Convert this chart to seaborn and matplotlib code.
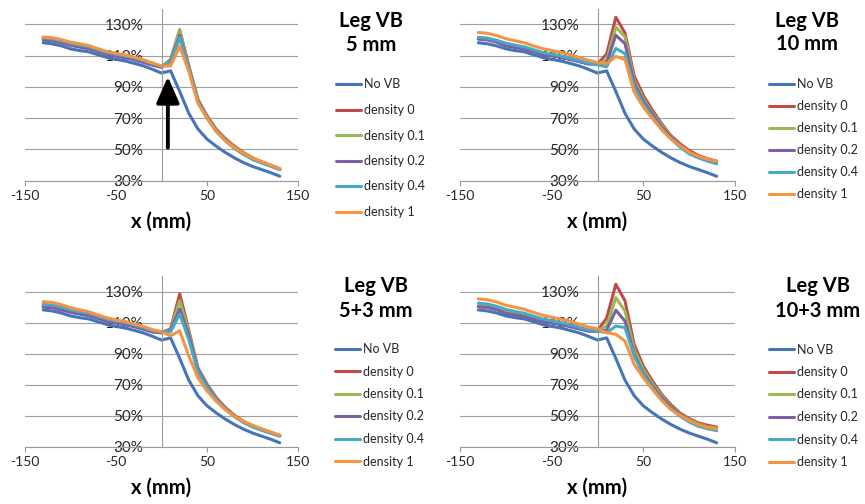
import matplotlib
matplotlib.use("Agg")
import matplotlib.pyplot as plt
from matplotlib.lines import Line2D
import pandas as pd
import seaborn as sns

# positions along the leg (mm)
x_mm = [-130, -120, -110, -100, -90, -80, -70, -60, -50, -40, -30, -20, -10,
        0, 10, 20, 30, 40, 50, 60, 70, 80, 90, 100, 110, 120, 130]

series_labels = ["No VB", "density 0", "density 0.1", "density 0.2", "density 0.4", "density 1"]

# reference curve, same in every panel (%)
no_vb = [118.2, 117.5, 116.2, 114.3, 113.2, 112.4, 110.6, 108.8, 107.6, 106.5, 105.0, 103.4, 101.2,
         98.8, 100.2, 87.0, 73.0, 63.0, 56.5, 52.0, 48.0, 44.5, 41.5, 39.0, 37.0, 35.0, 32.7]

# Leg VB 5 mm
p5_d0 = [120.6, 120.2, 118.9, 117.2, 116.0, 115.0, 113.2, 111.3, 110.2, 109.2, 107.7, 106.1, 104.3,
         102.8, 107.5, 126.5, 103.5, 82.0, 71.5, 63.0, 57.0, 52.0, 48.0, 44.5, 42.0, 39.8, 37.5]
p5_d01 = [121.0, 120.6, 119.3, 117.7, 116.5, 115.5, 113.6, 111.7, 110.6, 109.6, 108.1, 106.5, 104.6,
          103.0, 107.0, 126.0, 103.0, 81.5, 71.0, 62.5, 56.5, 51.5, 47.5, 44.2, 41.8, 39.6, 37.3]
p5_d02 = [119.8, 119.4, 118.1, 116.5, 115.4, 114.4, 112.6, 110.7, 109.6, 108.6, 107.2, 105.6, 103.8,
          102.5, 106.0, 123.0, 102.0, 81.0, 70.5, 62.0, 56.0, 51.0, 47.0, 43.8, 41.5, 39.4, 37.1]
p5_d04 = [121.2, 120.8, 119.5, 117.8, 116.7, 115.7, 113.8, 112.0, 110.9, 109.8, 108.4, 106.8, 104.9,
          103.1, 105.5, 121.5, 101.5, 80.5, 70.0, 61.5, 55.5, 50.5, 46.8, 43.5, 41.2, 39.2, 36.9]
p5_d1 = [121.8, 121.5, 120.2, 118.6, 117.5, 116.4, 114.4, 112.6, 111.4, 110.4, 109.0, 107.3, 105.3,
         103.3, 103.3, 116.0, 100.0, 79.5, 70.0, 61.5, 55.5, 51.0, 47.5, 44.5, 42.0, 39.8, 37.5]

# Leg VB 10 mm
p10_d0 = [121.0, 120.5, 119.0, 116.5, 115.5, 114.5, 112.8, 111.0, 110.2, 109.2, 107.8, 106.4, 104.8,
          104.6, 111.0, 134.5, 124.5, 97.0, 84.5, 75.0, 66.3, 58.8, 53.5, 49.2, 46.0, 43.9, 42.4]
p10_d01 = [121.3, 120.8, 119.4, 117.2, 116.0, 115.0, 113.2, 111.4, 110.5, 109.5, 108.0, 106.6, 105.0,
           104.8, 107.0, 128.3, 121.9, 94.0, 82.4, 73.2, 65.3, 58.2, 52.4, 48.2, 45.4, 43.5, 41.8]
p10_d02 = [120.5, 120.0, 118.6, 116.2, 115.2, 114.2, 112.5, 110.7, 109.8, 108.9, 107.5, 106.1, 104.6,
           104.5, 105.2, 123.0, 117.6, 92.0, 80.9, 72.3, 64.2, 57.8, 52.4, 48.2, 45.4, 43.2, 41.8]
p10_d04 = [121.7, 121.2, 119.8, 117.9, 116.7, 115.6, 113.8, 112.0, 110.9, 109.8, 108.3, 106.8, 105.2,
           104.0, 102.8, 114.6, 111.2, 89.8, 79.1, 70.6, 63.1, 56.7, 51.4, 47.1, 44.5, 42.4, 40.7]
p10_d1 = [124.8, 124.2, 122.8, 120.8, 119.5, 118.2, 116.2, 114.5, 113.2, 112.0, 110.5, 108.8, 107.0,
          105.5, 104.8, 109.5, 107.4, 86.6, 77.0, 69.5, 62.5, 56.7, 52.4, 48.2, 45.4, 43.5, 42.4]

# Leg VB 5+3 mm
p53_d0 = [120.8, 120.3, 119.0, 117.3, 116.1, 115.1, 113.3, 111.4, 110.3, 109.3, 107.8, 106.2, 104.5,
          103.7, 106.0, 128.5, 105.0, 81.0, 70.5, 62.0, 55.5, 50.5, 46.5, 43.5, 41.3, 39.3, 37.5]
p53_d01 = [121.3, 120.8, 119.5, 117.8, 116.6, 115.6, 113.7, 111.8, 110.7, 109.7, 108.2, 106.6, 104.8,
           103.9, 105.5, 124.2, 104.0, 80.0, 70.0, 61.5, 55.0, 50.0, 46.2, 43.3, 41.1, 39.1, 37.3]
p53_d02 = [119.9, 119.5, 118.2, 116.6, 115.5, 114.5, 112.7, 110.8, 109.7, 108.7, 107.3, 105.7, 103.9,
           103.4, 105.0, 118.8, 102.0, 79.5, 69.5, 61.0, 54.8, 49.8, 46.0, 43.1, 41.0, 39.0, 37.1]
p53_d04 = [121.8, 121.3, 120.0, 118.3, 117.1, 116.0, 114.1, 112.2, 111.1, 110.0, 108.5, 106.9, 105.0,
           104.0, 104.0, 115.6, 99.0, 78.0, 68.5, 60.5, 54.5, 49.5, 45.8, 43.0, 40.8, 38.8, 37.0]
p53_d1 = [123.5, 123.0, 121.6, 119.6, 118.3, 117.0, 115.0, 113.1, 111.8, 110.7, 109.2, 107.5, 105.5,
          104.2, 101.5, 104.8, 88.6, 74.5, 66.0, 59.5, 54.0, 49.8, 46.5, 44.0, 41.8, 39.7, 37.6]

# Leg VB 10+3 mm
p103_d0 = [120.4, 120.0, 118.6, 116.3, 115.3, 114.3, 112.6, 110.9, 110.0, 109.0, 107.6, 106.2, 104.7,
           104.6, 113.0, 134.7, 124.0, 96.0, 82.0, 72.4, 63.8, 57.3, 51.9, 48.3, 45.5, 44.0, 42.9]
p103_d01 = [121.0, 120.5, 119.1, 117.0, 115.8, 114.8, 113.0, 111.3, 110.3, 109.3, 107.9, 106.5, 104.9,
            104.8, 107.8, 126.1, 117.5, 92.8, 79.9, 70.6, 62.7, 56.2, 51.3, 47.6, 44.8, 43.1, 42.3]
p103_d02 = [120.2, 119.7, 118.3, 116.0, 115.0, 114.0, 112.3, 110.6, 109.7, 108.8, 107.4, 106.0, 104.5,
            104.5, 105.0, 118.0, 111.0, 89.6, 77.7, 69.1, 61.6, 55.6, 50.9, 47.0, 44.4, 42.7, 41.6]
p103_d04 = [122.5, 122.0, 120.5, 118.5, 117.2, 116.1, 114.2, 112.4, 111.2, 110.1, 108.6, 107.0, 105.4,
            104.8, 103.5, 107.8, 106.8, 88.5, 76.7, 68.1, 60.5, 54.7, 49.8, 46.1, 43.3, 41.8, 40.5]
p103_d1 = [125.3, 124.7, 123.3, 121.2, 119.9, 118.6, 116.6, 114.8, 113.5, 112.3, 110.8, 109.1, 107.2,
           106.0, 103.5, 102.5, 98.2, 83.1, 74.5, 67.0, 59.9, 54.1, 50.4, 47.0, 44.4, 42.7, 41.6]

panel_titles = ["Leg VB\n5 mm", "Leg VB\n10 mm", "Leg VB\n5+3 mm", "Leg VB\n10+3 mm"]
panel_series = [
    [no_vb, p5_d0, p5_d01, p5_d02, p5_d04, p5_d1],
    [no_vb, p10_d0, p10_d01, p10_d02, p10_d04, p10_d1],
    [no_vb, p53_d0, p53_d01, p53_d02, p53_d04, p53_d1],
    [no_vb, p103_d0, p103_d01, p103_d02, p103_d04, p103_d1],
]
x_ticks = [-150, -50, 50, 150]
y_ticks = [30, 50, 70, 90, 110, 130]

colors = ["#4574B8", "#BE4B48", "#98B954", "#7D60A0", "#46AAC5", "#F69240"]

W, H = 865, 504

# layout in pixels: (left, top, right, bottom) of each plot area, title centre, legend anchor
axes_px = [(25, 8.7, 298, 180.5), (460, 8.7, 735, 180.5),
           (25, 276, 298, 447), (460, 276, 735, 447)]
title_px = [(371, 21, 45), (807, 21, 44), (376, 286, 311), (818, 286, 311)]
legend_px = [(336, 78.5, 1.08), (769, 78, 0.8), (335, 343, 0.84), (769, 343.5, 0.84)]


def fx(px):
    return px / W


def fy(py):
    return 1 - py / H


sns.set_theme(style="white")
plt.rcParams["font.family"] = ["Lato", "DejaVu Sans"]

fig = plt.figure(figsize=(W / 100, H / 100), dpi=100)
fig.patch.set_facecolor("white")

for i in range(4):
    l, t, r, b = axes_px[i]
    ax = fig.add_axes([fx(l), fy(b), (r - l) / W, (b - t) / H])

    rows = []
    for label, values in zip(series_labels, panel_series[i]):
        for xv, yv in zip(x_mm, values):
            rows.append({"x": xv, "value": yv, "series": label})
    df = pd.DataFrame(rows)
    sns.lineplot(data=df, x="x", y="value", hue="series", hue_order=series_labels,
                 palette=colors, linewidth=2.2, estimator=None, sort=False,
                 legend=False, ax=ax)

    ax.set_xlim(-150, 150)
    ax.set_ylim(30, 140)
    ax.set_xticks(x_ticks)
    ax.set_xticklabels([str(v) for v in x_ticks])
    ax.set_yticks(y_ticks)
    ax.set_yticklabels([f"{v}%" for v in y_ticks])
    ax.grid(axis="y", color="#a0a0a0", linewidth=0.8)
    ax.grid(axis="x", visible=False)
    for side in ["top", "right"]:
        ax.spines[side].set_visible(False)
    ax.spines["left"].set_position(("data", 0))
    ax.spines["left"].set_color("#9a9a9a")
    ax.spines["left"].set_linewidth(0.8)
    ax.spines["bottom"].set_color("#9a9a9a")
    ax.spines["bottom"].set_linewidth(0.8)
    ax.tick_params(axis="y", length=0, pad=13, labelsize=11, labelcolor="#262626")
    ax.tick_params(axis="x", length=3.5, width=0.8, color="#9a9a9a", direction="out",
                   pad=3, labelsize=10, labelcolor="#262626", bottom=True)
    ax.set_xlabel("x (mm)", fontsize=14.5, fontweight="bold", labelpad=7, color="black")
    ax.set_ylabel("")
    ax.set_facecolor("white")

    if i == 0:
        # arrow pointing at the dip of the reference curve
        ax.annotate("", xy=(7, 96.5), xytext=(7, 51),
                    arrowprops=dict(arrowstyle="-|>,head_width=0.35,head_length=0.8",
                                    color="black", lw=2.8, mutation_scale=20,
                                    shrinkA=0, shrinkB=0))

    tx, ty1, ty2 = title_px[i]
    line1, line2 = panel_titles[i].split("\n")
    fig.text(fx(tx), fy(ty1), line1, ha="center", va="center", fontsize=14.5,
             fontweight="bold", color="black")
    fig.text(fx(tx), fy(ty2), line2, ha="center", va="center", fontsize=14.5,
             fontweight="bold", color="black")

    lx, ly, spacing = legend_px[i]
    handles = [Line2D([0], [0], color=c, lw=2.2) for c in colors]
    fig.legend(handles, series_labels, loc="upper left",
               bbox_to_anchor=(fx(lx), fy(ly)), bbox_transform=fig.transFigure,
               frameon=False, fontsize=9, handlelength=2.0, handletextpad=0.25,
               labelspacing=spacing, borderpad=0, borderaxespad=0,
               labelcolor="#262626")

fig.savefig("out.png", dpi=100, facecolor="white")
